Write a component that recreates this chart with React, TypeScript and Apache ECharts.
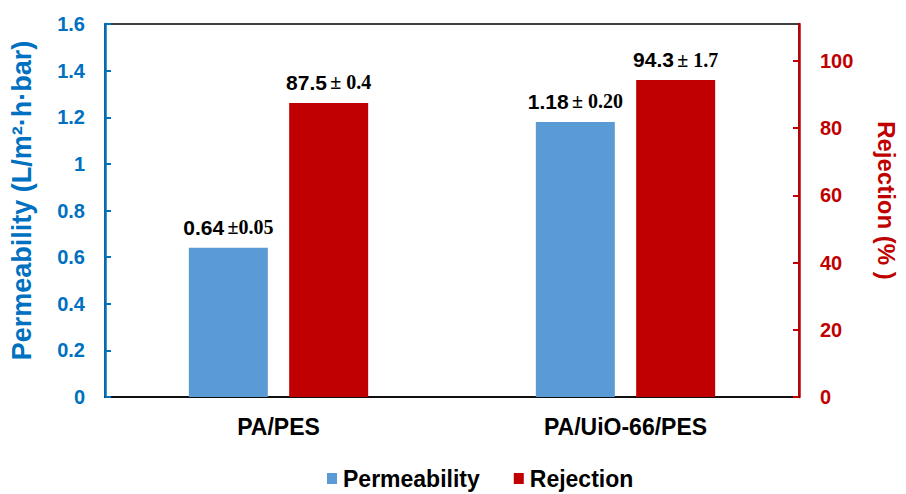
import React, { useEffect, useRef } from "react";
import * as echarts from "echarts";

const categories = ["PA/PES", "PA/UiO-66/PES"];
const permeability = [0.64, 1.18];
const permeabilityErr = ["±0.05", "± 0.20"];
const rejection = [87.5, 94.3];
const rejectionErr = ["± 0.4", "± 1.7"];

export default function App() {
  const ref = useRef<HTMLDivElement>(null);
  useEffect(() => {
    document.body.style.margin = "0";
    const chart = echarts.init(ref.current!, null, { renderer: "svg" });
    const sans = "Liberation Sans, Arial, sans-serif";
    const serif = "Liberation Serif, Times New Roman, serif";
    const rich = {
      n: { fontFamily: sans, fontWeight: "bold", fontSize: 21, color: "#000" },
      e: { fontFamily: serif, fontWeight: "bold", fontSize: 20, color: "#000" },
    };
    chart.setOption({
      animation: false,
      grid: { left: 103, right: 98, top: 24, bottom: 97, show: true, borderColor: "#000", borderWidth: 1.5 },
      legend: {
        bottom: -1,
        left: 322,
        itemWidth: 10,
        itemHeight: 11,
        itemGap: 34,
        icon: "rect",
        textStyle: { fontFamily: sans, fontWeight: "bold", fontSize: 23, color: "#000", padding: [0, 0, 0, 1] },
        data: ["Permeability", "Rejection"],
      },
      xAxis: {
        type: "category",
        data: categories,
        axisLine: { lineStyle: { color: "#000", width: 1.5 } },
        axisTick: { show: false },
        axisLabel: { fontFamily: sans, fontWeight: "bold", fontSize: 23, color: "#000", margin: 18 },
      },
      yAxis: [
        {
          type: "value",
          min: 0,
          max: 1.6,
          interval: 0.2,
          name: "Permeability (L/m\u00b2\u00b7h\u00b7bar)",
          nameLocation: "middle",
          nameGap: 70,
          nameTextStyle: {
            fontFamily: sans,
            fontWeight: "bold",
            fontSize: 27,
            color: "#0070C0",
            padding: [0, 0, 0, 20],
          },
          axisLine: { show: true, lineStyle: { color: "#0070C0", width: 2.5 } },
          axisTick: { show: true, inside: true, length: 6, lineStyle: { color: "#0070C0", width: 2 } },
          splitLine: { show: false },
          axisLabel: {
            fontFamily: sans,
            fontWeight: "bold",
            fontSize: 20,
            color: "#0070C0",
            margin: 20,
            formatter: (v: number) => String(Math.round(v * 10) / 10),
          },
        },
        {
          type: "value",
          min: 0,
          max: 111,
          interval: 20,
          name: "Rejection (% )",
          nameLocation: "middle",
          nameGap: 75,
          nameRotate: -90,
          nameTextStyle: {
            fontFamily: sans,
            fontWeight: "bold",
            fontSize: 24,
            color: "#C00000",
            padding: [0, 20, 0, 0],
          },
          axisLine: { show: true, lineStyle: { color: "#C00000", width: 2.5 } },
          axisTick: { show: true, inside: true, length: 6, lineStyle: { color: "#C00000", width: 2 } },
          splitLine: { show: false },
          axisLabel: {
            fontFamily: sans,
            fontWeight: "bold",
            fontSize: 20,
            color: "#C00000",
            margin: 21,
            showMaxLabel: false,
          },
        },
      ],
      series: [
        {
          name: "Permeability",
          type: "bar",
          yAxisIndex: 0,
          data: permeability,
          barWidth: 79,
          barGap: "27%",
          itemStyle: { color: "#5B9BD5" },
          label: {
            show: true,
            position: "top",
            distance: 10,
            formatter: (p: any) => `{n|${p.value}} {e|${permeabilityErr[p.dataIndex]}}`,
            rich,
          },
        },
        {
          name: "Rejection",
          type: "bar",
          yAxisIndex: 1,
          data: rejection,
          barWidth: 79,
          barGap: "27%",
          itemStyle: { color: "#C00000" },
          label: {
            show: true,
            position: "top",
            distance: 10,
            formatter: (p: any) => `{n|${p.value}} {e|${rejectionErr[p.dataIndex]}}`,
            rich,
          },
        },
      ],
    });
    return () => chart.dispose();
  }, []);
  return <div ref={ref} style={{ width: 906, height: 494 }} />;
}
